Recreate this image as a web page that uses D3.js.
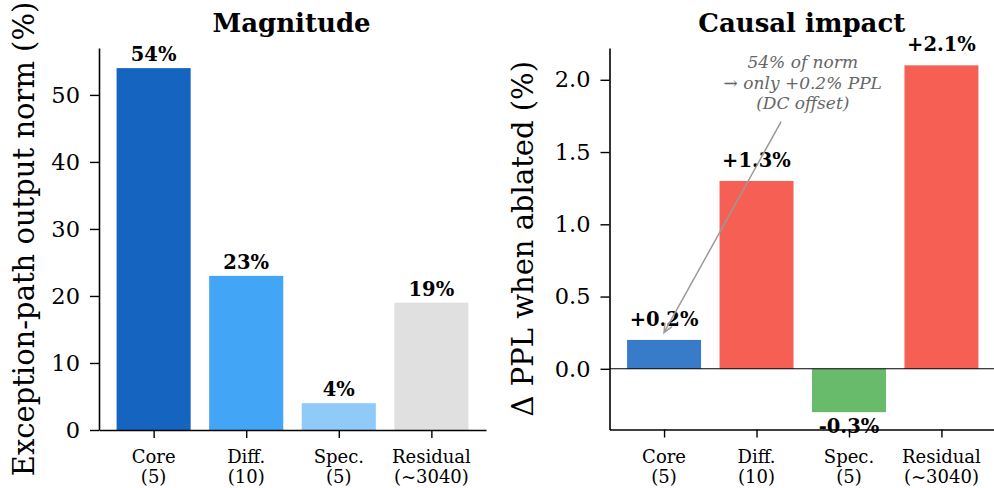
<!DOCTYPE html>
<html><head><meta charset="utf-8">
<script src="https://cdn.jsdelivr.net/npm/d3@7"></script>
<style>
body{margin:0;background:#fff}
text{font-family:"DejaVu Serif",serif}
</style></head>
<body><svg id="c" width="994" height="488"></svg>
<script>
const categories = ["Core", "Diff.", "Spec.", "Residual"];
const counts = ["(5)", "(10)", "(5)", "(~3040)"];
const magnitude = [54, 23, 4, 19];
const impact = [0.2, 1.3, -0.3, 2.1];
const magTicks = [0, 10, 20, 30, 40, 50];
const impTicks = [0.0, 0.5, 1.0, 1.5, 2.0];
const magColors = ["#1565C0", "#42A5F5", "#90CAF9", "#E0E0E0"];
const impColors = ["#1565C0", "#F44336", "#4CAF50", "#F44336"];
const noteLines = ["54% of norm", "\u2192 only +0.2% PPL", "(DC offset)"];

const svg = d3.select("#c");
const idx = d3.range(categories.length);
const barW = 0.8;

function panel(opts) {
  const {x, y, values, colors, opacity, ticks, fmt, title, ylabel, ylabelX, labelFmt} = opts;
  const g = svg.append("g");
  g.selectAll("rect.bar").data(idx).join("rect")
    .attr("x", i => x(i - barW/2))
    .attr("width", i => x(i + barW/2) - x(i - barW/2))
    .attr("y", i => y(Math.max(0, values[i])))
    .attr("height", i => Math.abs(y(values[i]) - y(0)))
    .attr("fill", i => colors[i])
    .attr("fill-opacity", opacity);
  const ya = g.append("g").attr("transform", `translate(${x.range()[0]},0)`)
    .call(d3.axisLeft(y).tickValues(ticks).tickFormat(fmt).tickSize(9).tickPadding(10).tickSizeOuter(0));
  ya.select(".domain").attr("stroke", "#000").attr("stroke-width", 1.6);
  ya.selectAll(".tick line").attr("stroke-width", 1.4);
  ya.selectAll(".tick text").attr("font-size", 22.5).attr("font-family", "DejaVu Serif").attr("fill", "#000");
  const xa = g.append("g").attr("transform", `translate(0,${y.range()[0]})`)
    .call(d3.axisBottom(x).tickValues(idx).tickFormat("").tickSize(8).tickSizeOuter(0));
  xa.select(".domain").attr("stroke", "#000").attr("stroke-width", 1.6);
  xa.selectAll(".tick line").attr("stroke-width", 1.4);
  const cl = g.selectAll("text.cat").data(idx).join("text")
    .attr("class", "cat")
    .attr("text-anchor", "middle")
    .attr("font-size", 18)
    .attr("fill", "#000");
  cl.append("tspan").attr("x", i => x(i)).attr("y", 463).text(i => categories[i]);
  cl.append("tspan").attr("x", i => x(i)).attr("y", 483).text(i => counts[i]);
  g.selectAll("text.val").data(idx).join("text")
    .attr("x", i => x(i))
    .attr("y", i => values[i] >= 0 ? y(values[i]) - opts.posOff : y(values[i]) + opts.negOff)
    .attr("text-anchor", "middle")
    .attr("font-size", 19.5)
    .attr("font-weight", "bold")
    .attr("fill", "#000")
    .text(i => labelFmt(values[i]));
  g.append("text")
    .attr("x", (x.range()[0] + Math.min(x.range()[1], 994)) / 2 + opts.titleDx)
    .attr("y", 32)
    .attr("text-anchor", "middle")
    .attr("font-size", 26)
    .attr("font-weight", "bold")
    .text(title);
  const cy = (y.range()[0] + y.range()[1]) / 2;
  g.append("text")
    .attr("transform", `translate(${ylabelX},${cy}) rotate(-90)`)
    .attr("text-anchor", "middle")
    .attr("font-size", 29)
    .text(ylabel);
  return g;
}

const xL = d3.scaleLinear().domain([-0.59, 3.59]).range([99, 486]);
const yL = d3.scaleLinear().domain([0, 57]).range([430, 48]);
panel({x: xL, y: yL, values: magnitude, colors: magColors, opacity: 1,
  ticks: magTicks, fmt: d3.format("d"), title: "Magnitude",
  ylabel: "Exception-path output norm (%)", ylabelX: 34,
  labelFmt: v => v + "%", posOff: 7, negOff: 21, titleDx: -1});

const xR = d3.scaleLinear().domain([-0.59, 3.59]).range([609.5, 996]);
const yR = d3.scaleLinear().domain([-0.42, 2.22]).range([429.5, 48]);
const gR = panel({x: xR, y: yR, values: impact, colors: impColors, opacity: 0.85,
  ticks: impTicks, fmt: d3.format(".1f"), title: "Causal impact",
  ylabel: "\u0394 PPL when ablated (%)", ylabelX: 533,
  labelFmt: v => (v > 0 ? "+" : "") + v.toFixed(1) + "%", posOff: 14, negOff: 21, titleDx: 0});

gR.append("line")
  .attr("x1", xR.range()[0]).attr("x2", 994)
  .attr("y1", yR(0)).attr("y2", yR(0))
  .attr("stroke", "#000").attr("stroke-width", 1.1);

const ax = xR(1.5), ayc = yR(1.98);
const ex = xR(0), ey = yR(0.25);
const t = 39 / (ey - ayc);
const sx = ax + (ex - ax) * t, sy = ayc + (ey - ayc) * t;
gR.append("line").attr("x1", sx).attr("y1", sy).attr("x2", ex).attr("y2", ey)
  .attr("stroke", "#9a9a9a").attr("stroke-width", 1.5);
const ang = Math.atan2(ey - sy, ex - sx);
const hl = 10, hw = 0.42;
const hp = [[ex - hl * Math.cos(ang - hw), ey - hl * Math.sin(ang - hw)], [ex, ey],
            [ex - hl * Math.cos(ang + hw), ey - hl * Math.sin(ang + hw)]];
gR.append("path").attr("d", d3.line()(hp)).attr("fill", "none")
  .attr("stroke", "#9a9a9a").attr("stroke-width", 1.5);
gR.selectAll("text.note").data(noteLines).join("text")
  .attr("class", "note")
  .attr("x", ax)
  .attr("y", (d, i) => ayc + 6 + (i - 1) * 20.3)
  .attr("text-anchor", "middle")
  .attr("font-size", 17)
  .attr("font-style", "italic")
  .attr("fill", "#666")
  .text(d => d);
</script>
</body></html>
